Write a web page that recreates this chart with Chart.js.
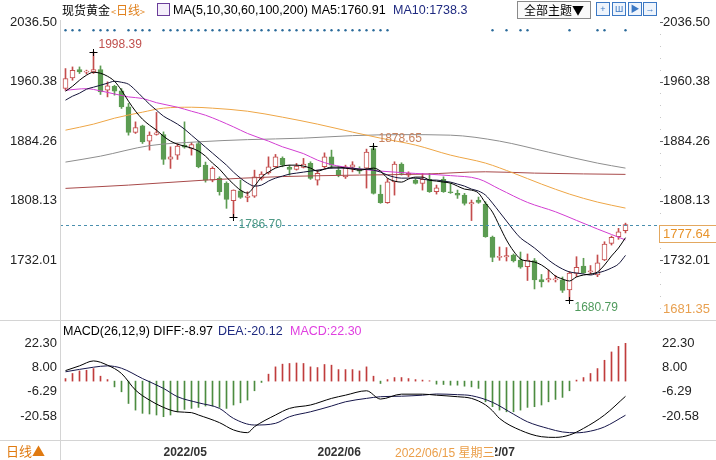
<!DOCTYPE html>
<html><head><meta charset="utf-8">
<script src="https://cdn.jsdelivr.net/npm/chart.js@4.4.1/dist/chart.umd.min.js"></script>
<style>
html,body{margin:0;padding:0;background:#fff;}
#wrap{position:relative;width:716px;height:460px;overflow:hidden;background:#fff;font-family:"Liberation Sans","Noto Sans CJK SC",sans-serif;color:#000;}
canvas{position:absolute;left:0;}
.t{position:absolute;white-space:nowrap;font-size:12.5px;line-height:14px;}
.ln{position:absolute;background:#d4d4d4;}
.ic{position:absolute;top:2px;width:12px;height:12px;border:1px solid #3b78c4;background:#eef4fc;color:#3b78c4;font-size:9px;line-height:12px;text-align:center;}
</style></head><body><div id="wrap">
<canvas id="c1" width="716" height="320" style="top:0"></canvas>
<canvas id="c2" width="716" height="140" style="top:320px"></canvas>
<div class="ln" style="left:60px;top:20px;width:1px;height:440px"></div>
<div class="ln" style="left:0;top:320px;width:716px;height:1px"></div>
<div class="ln" style="left:0;top:440px;width:716px;height:1px"></div>

<div class="t" style="left:62px;top:3px;font-family:'Noto Sans CJK SC';font-size:12px;">现货黄金</div>
<div class="t" style="left:111px;top:3px;color:#e0801c;font-family:'Noto Sans CJK SC';font-size:12px;"><span style="font-size:9px">&lt;</span>日线<span style="font-size:9px">&gt;</span></div>
<div style="position:absolute;left:157px;top:3px;width:11px;height:11px;border:1px solid #6a3d9a;background:#f4eefa;"></div>
<div class="t" style="left:173px;top:3px;">MA(5,10,30,60,100,200) MA5:1760.91</div>
<div class="t" style="left:393px;top:3px;color:#1f2a80;">MA10:1738.3</div>
<div style="position:absolute;left:517px;top:1px;width:72px;height:16px;border:1px solid #8a8a8a;background:#fafafa;font-family:'Noto Sans CJK SC';font-size:12px;line-height:16px;text-align:center;">全部主题▼</div>
<div class="ic" style="left:596px">+</div>
<div class="ic" style="left:612px">Ш</div>
<div class="ic" style="left:628px">▶</div>
<div class="ic" style="left:643px">→</div>

<div class="t" style="left:63px;top:324px;">MACD(26,12,9) DIFF:-8.97</div>
<div class="t" style="left:218px;top:324px;color:#1f2a80;">DEA:-20.12</div>
<div class="t" style="left:290px;top:324px;color:#e040e0;">MACD:22.30</div>

<div class="t" style="left:6px;top:444px;color:#e07a10;font-family:'Noto Sans CJK SC';font-size:13px;">日线▲</div>
<div class="t" style="left:395px;top:445px;color:#eb9f4a;background:#fff;font-size:12px;padding-right:1px;">2022/06/15 <span style="font-family:'Noto Sans CJK SC'">星期三</span></div>
</div>
<script>
// ---------- data ----------
const monthLabels = ['2022/05','2022/06','2022/07'];
const monthStartIdx = [14, 36, 58];

const open = [1951.5,1965.0,1975.8,1972.5,1972.7,1975.8,1949.3,1954.4,1948.4,1928.0,
1895.4,1903.8,1884.3,1892.8,1892.8,1861.3,1866.4,1879.2,1874.9,1881.3,
1853.6,1834.5,1836.6,1830.3,1808.1,1820.8,1812.4,1814.1,1836.6,1843.8,
1851.5,1862.2,1850.7,1848.1,1850.7,1855.8,1834.5,1851.5,1864.2,1847.2,
1838.7,1851.0,1848.5,1849.8,1874.9,1816.6,1805.5,1832.3,1854.9,1840.9,
1834.5,1830.3,1835.4,1819.6,1835.4,1819.6,1817.5,1815.3,1803.9,1809.0,
1803.9,1761.7,1735.6,1736.2,1738.8,1732.4,1723.8,1731.8,1707.5,1706.9,
1706.9,1706.9,1694.1,1715.4,1724.7,1717.1,1713.2,1732.4,1753.7,1762.1,
1769.8];
const high = [1977.0,1979.1,1979.1,1975.0,1998.39,1980.4,1960.0,1955.7,1951.5,1932.4,
1908.9,1904.7,1896.1,1921.0,1896.1,1877.0,1881.3,1908.9,1882.6,1884.3,
1857.5,1851.5,1838.7,1832.3,1822.0,1834.5,1819.6,1847.2,1845.1,1864.2,
1867.3,1864.2,1853.6,1855.8,1862.2,1857.9,1847.2,1869.3,1872.8,1851.5,
1853.6,1858.0,1851.5,1874.1,1878.65,1828.1,1836.6,1857.9,1856.6,1845.1,
1836.6,1843.0,1843.0,1828.1,1838.7,1830.3,1821.7,1817.5,1809.0,1812.8,
1806.8,1763.0,1749.0,1748.3,1740.1,1742.6,1740.1,1734.3,1713.9,1719.6,
1712.6,1710.7,1717.7,1736.6,1734.6,1725.3,1738.8,1755.7,1763.0,1772.8,
1779.5];
const low = [1949.3,1962.1,1970.7,1970.0,1970.7,1943.9,1940.8,1943.0,1926.0,1891.9,
1894.1,1881.3,1872.8,1891.9,1854.5,1849.4,1860.9,1875.3,1866.4,1850.2,
1831.9,1832.3,1815.3,1798.4,1786.70,1811.1,1806.8,1812.4,1834.5,1842.1,
1850.7,1851.5,1840.9,1847.2,1850.0,1835.4,1828.1,1849.4,1849.4,1838.7,
1836.6,1845.0,1843.0,1824.3,1816.6,1804.8,1804.8,1815.3,1840.9,1838.7,
1829.4,1821.7,1818.8,1816.6,1818.8,1817.5,1811.1,1802.6,1782.8,1804.8,
1761.4,1730.2,1732.0,1731.1,1729.8,1721.8,1706.2,1695.4,1697.9,1704.3,
1704.3,1690.9,1680.79,1711.1,1715.4,1714.5,1711.1,1731.5,1751.5,1758.8,
1767.0];
const close = [1964.3,1974.9,1972.7,1973.5,1975.8,1947.2,1954.8,1948.1,1928.0,1895.4,
1901.7,1883.4,1891.9,1894.8,1860.9,1864.2,1877.9,1876.6,1880.0,1851.5,
1834.5,1849.4,1819.6,1809.9,1821.7,1812.4,1814.1,1838.7,1842.1,1851.5,
1864.2,1853.6,1848.1,1852.4,1854.9,1836.6,1843.0,1864.2,1853.6,1840.9,
1851.5,1854.0,1845.9,1870.2,1817.5,1805.5,1832.3,1854.9,1843.0,1843.0,
1830.3,1835.4,1819.6,1824.7,1819.6,1818.3,1815.3,1804.8,1805.8,1806.0,
1762.1,1735.6,1737.0,1738.1,1731.1,1723.1,1732.4,1706.9,1704.3,1708.8,
1708.1,1693.5,1715.8,1723.1,1716.2,1718.4,1728.9,1752.8,1761.4,1768.5,
1777.64];

const ma5 = [1948.1,1954.4,1962.1,1968.5,1972.3,1971.0,1967.2,1960.8,1949.3,1935.3,
1922.6,1912.3,1904.7,1898.3,1890.6,1884.3,1880.4,1877.9,1875.4,1871.5,
1865.1,1856.2,1848.5,1838.3,1829.4,1821.7,1817.9,1826.8,1838.3,1844.7,
1849.8,1852.4,1853.6,1853.6,1852.4,1849.8,1846.0,1848.5,1851.1,1851.1,
1849.8,1848.5,1847.2,1848.5,1849.8,1846.0,1837.0,1833.2,1831.9,1835.8,
1838.3,1838.3,1834.5,1833.2,1831.9,1830.7,1826.8,1823.0,1821.7,1817.9,
1805.1,1793.6,1775.8,1757.9,1743.9,1733.7,1731.1,1729.8,1726.0,1719.6,
1711.9,1708.1,1705.6,1710.7,1713.2,1714.5,1717.1,1726.0,1737.5,1747.7,
1760.91];
const ma10 = [1936.6,1941.7,1945.5,1950.6,1953.2,1955.7,1958.3,1960.8,1959.5,1957.0,
1949.3,1940.4,1931.5,1923.8,1916.2,1911.1,1906.0,1899.6,1891.9,1884.3,
1876.6,1869.0,1861.3,1853.6,1844.7,1837.0,1830.7,1826.8,1828.1,1833.2,
1837.0,1839.6,1842.1,1843.4,1844.7,1846.0,1847.2,1848.5,1849.8,1849.8,
1849.8,1849.8,1848.5,1848.5,1847.2,1844.7,1840.9,1838.3,1837.0,1837.0,
1837.0,1835.8,1834.5,1834.5,1833.2,1831.9,1829.4,1826.8,1823.0,1820.5,
1815.3,1805.1,1793.6,1782.2,1770.7,1760.5,1754.1,1747.7,1740.1,1732.4,
1726.0,1720.9,1717.1,1715.8,1714.5,1713.2,1715.8,1718.4,1722.2,1727.3,
1738.3];
// [candle index, value] readings for the smoother averages
const ma30 = [[0,1949.3],[3,1951.3],[5,1948.5],[9,1940.8],[11,1938.8],[13,1933.4],[16,1927.6],[18,1922.5],[20,1917.4],[24,1902.5],[26,1894.1],[29,1884.3],[31,1877.0],[34,1868.3],[36,1860.0],[38,1854.3],[41,1849.8],[45,1846.0],[50,1843.0],[55,1840.2],[59,1836.0],[62,1823.0],[66,1806.0],[70,1794.0],[73,1783.0],[76,1772.0],[78,1765.0],[80,1758.0]];
const ma60 = [[0,1898.3],[4,1906.0],[7,1913.6],[11,1921.3],[14,1926.4],[18,1927.6],[21,1926.4],[26,1922.5],[31,1914.9],[36,1906.0],[41,1895.8],[45,1888.1],[50,1879.2],[55,1866.4],[60,1856.2],[64,1843.4],[68,1829.4],[72,1816.6],[76,1806.4],[80,1798.7]];
const ma100 = [[0,1857.5],[5,1865.1],[12,1878.5],[19,1883.4],[26,1886.2],[34,1888.1],[41,1891.3],[48,1892.6],[55,1891.9],[62,1884.3],[69,1870.2],[76,1856.2],[80,1849.8]];
const ma200 = [[0,1823.9],[9,1828.1],[20,1834.5],[31,1839.0],[42,1840.9],[51,1842.1],[60,1845.1],[67,1843.4],[74,1842.4],[80,1841.8]];

const eventIdx = [0,1,2,4,5,6,7,9,10,11,12,14,15,16,17,18,19,20,21,22,23,24,25,26,27,28,29,30,31,32,33,34,35,36,37,38,39,40,41,42,43,44,45,46,61,63,65,66,72,76,77,80];
const eventLevel = 2025.9;

const highMarkIdx = [4, 44];
const lowMarkIdx = [24, 72];
const cursorPrice = 1681.35;
const priceTicks = [2036.50, 1960.38, 1884.26, 1808.13, 1732.01];

const macdHist = [1.5,4.5,6.0,6.4,7.4,2.9,0.9,-3.4,-6.3,-13.2,
-17.1,-19.0,-19.4,-20.0,-21.0,-20.0,-18.1,-16.7,-16.1,-15.5,
-14.7,-14.7,-15.5,-16.1,-14.1,-12.8,-11.2,-5.7,-0.8,4.1,
8.4,10.0,10.4,10.7,10.4,8.4,8.0,9.8,9.4,6.8,
6.8,6.8,6.0,8.4,2.9,-1.4,0.9,2.1,2.1,1.5,
0.9,0.6,0.2,-1.8,-2.0,-2.4,-2.4,-3.0,-3.4,-4.3,
-12.2,-15.1,-17.1,-18.1,-18.1,-17.1,-15.5,-15.1,-14.1,-12.2,
-10.8,-9.6,-5.7,0.6,2.1,4.5,7.4,12.3,17.2,20.5,
22.3];
const diffLine = [[0,6.2],[2,9.0],[4,11.9],[6,9.4],[8,4.5],[10,-5.3],[12,-11.2],[14,-15.5],[16,-18.1],[18,-18.6],[19,-20.0],[22,-24.5],[24,-28.8],[26,-30.4],[27,-26.9],[30,-20.0],[32,-16.1],[35,-14.1],[38,-10.2],[40,-8.3],[43,-5.7],[45,-10.6],[48,-7.7],[51,-7.7],[53,-8.3],[56,-9.2],[58,-10.2],[60,-14.0],[61,-17.5],[62,-22.0],[65,-29.0],[68,-32.8],[70,-33.2],[72,-31.8],[74,-27.9],[77,-20.0],[80,-8.97]];
const deaLine = [[0,5.5],[4,8.2],[6,9.0],[8,7.6],[11,1.5],[14,-4.3],[16,-9.2],[19,-12.8],[22,-16.1],[24,-22.0],[27,-25.9],[30,-24.9],[32,-21.0],[35,-18.1],[38,-14.7],[40,-12.2],[43,-10.2],[45,-9.2],[48,-8.9],[51,-8.3],[53,-7.6],[56,-8.0],[58,-8.6],[61,-12.5],[64,-19.5],[66,-24.0],[69,-28.0],[71,-30.0],[73,-30.5],[75,-29.5],[77,-27.0],[80,-20.12]];
const macdTicks = [22.30, 8.00, -6.29, -20.58];

// ---------- drawing ----------
Chart.defaults.font.family = '"Liberation Sans", Arial, sans-serif';
const FONT = '"Liberation Sans", Arial, sans-serif';
const UP = '#c44d4d', DOWN = '#5c9c52';
const isUp = i => close[i] >= open[i];
const lastPrice = close[close.length - 1];
const XMIN = -0.7857, XMAX = 84.2143;
const pts = a => a.map((v, i) => ({x: i, y: v}));
const pairPts = a => a.map(([i, v]) => ({x: i, y: v}));
const lineDs = (data, color, order) => ({type: 'line', data, borderColor: color, borderWidth: 1, pointRadius: 0, cubicInterpolationMode: 'monotone', order, yAxisID: 'y'});

const overlay = {
  id: 'overlay',
  afterDraw(chart) {
    const {ctx, chartArea: a, scales: {x, y}} = chart;
    ctx.save();
    const step = priceTicks[0] - priceTicks[1];
    for (let k = 0; k < priceTicks.length; k++) {
      const v = priceTicks[k];
      let py = Math.round(y.getPixelForValue(v)) + 0.5;
      ctx.strokeStyle = '#666'; ctx.lineWidth = 1;
      ctx.beginPath(); ctx.moveTo(a.right + 5, py); ctx.lineTo(a.right + 8, py); ctx.stroke();
      for (let m = 1; m < 5; m++) {
        const mv = v - m * step / 5;
        if (mv < y.min) break;
        py = Math.round(y.getPixelForValue(mv));
        ctx.fillStyle = '#c8c8c8'; ctx.fillRect(a.right + 5, py, 1, 1);
      }
    }
    const yl = Math.round(y.getPixelForValue(lastPrice)) + 0.5;
    ctx.setLineDash([3, 3]); ctx.strokeStyle = '#4a8fae';
    ctx.beginPath(); ctx.moveTo(a.left, yl); ctx.lineTo(a.right + 3, yl); ctx.stroke();
    ctx.setLineDash([]);
    ctx.fillStyle = '#fff'; ctx.fillRect(a.right + 4, yl, 58, 17);
    ctx.strokeStyle = '#e3a860'; ctx.strokeRect(a.right + 4.5, yl, 58, 17);
    ctx.font = '13px ' + FONT; ctx.textBaseline = 'middle'; ctx.textAlign = 'left';
    ctx.fillStyle = '#e8942c'; ctx.fillText(lastPrice.toFixed(2), a.right + 8, yl + 9);
    ctx.fillStyle = '#e8a050'; ctx.fillText(cursorPrice.toFixed(2), a.right + 8, y.getPixelForValue(cursorPrice) + 9);
    const cross = (px, py) => {
      ctx.strokeStyle = '#000'; ctx.lineWidth = 1; ctx.beginPath();
      ctx.moveTo(px - 4, py + 0.5); ctx.lineTo(px + 4, py + 0.5);
      ctx.moveTo(px, py - 3); ctx.lineTo(px, py + 4); ctx.stroke();
    };
    ctx.font = '12px ' + FONT;
    highMarkIdx.forEach((i, k) => {
      const px = x.getPixelForValue(i), py = Math.round(y.getPixelForValue(high[i]));
      cross(px, py);
      ctx.fillStyle = k === 0 ? '#c0504d' : '#c8825e';
      ctx.fillText(high[i].toFixed(2), px + 5, py - 7);
    });
    lowMarkIdx.forEach((i, k) => {
      const px = x.getPixelForValue(i), py = Math.round(y.getPixelForValue(low[i]));
      cross(px, py);
      ctx.fillStyle = k === 0 ? '#4f9a86' : '#4f9a5c';
      ctx.fillText(low[i].toFixed(2), px + 5, py + 8);
    });
    ctx.restore();
  }
};

const yAxisBase = (pos, min, max, ticks, pad) => ({
  position: pos, min, max, beginAtZero: false,
  afterFit(s) { s.width = pos === 'left' ? 60 : 61; s.paddingTop = 0; s.paddingBottom = 0; },
  afterBuildTicks(s) { s.ticks = ticks.map(v => ({value: v})); },
  ticks: {autoSkip: false, padding: pad, color: '#222', font: {size: 13, family: FONT}, callback: v => Number(v).toFixed(2)},
  grid: {display: false, drawTicks: false},
  border: {display: false}
});

const PMAX = 2036.5, PMIN = 1658.76;
const chart1 = new Chart(document.getElementById('c1'), {
  type: 'bar',
  data: {datasets: [
    lineDs(pts(ma5), '#000000', 1),
    lineDs(pts(ma10), '#15153a', 1),
    lineDs(pairPts(ma30), '#d23ed2', 2),
    lineDs(pairPts(ma60), '#eea646', 2),
    lineDs(pairPts(ma100), '#8e8e8e', 2),
    lineDs(pairPts(ma200), '#a84a4a', 2),
    {type: 'line', data: eventIdx.map(i => ({x: i, y: eventLevel})), showLine: false, pointRadius: 1.2, pointBorderWidth: 0, pointBackgroundColor: '#2a6a9a', order: 1, yAxisID: 'y'},
    {type: 'bar', data: close.map((c, i) => ({x: i, y: [open[i], c]})), yAxisID: 'y', order: 4, grouped: false,
      barThickness: 5, minBarLength: 1, borderWidth: 1, borderSkipped: false,
      backgroundColor: c => isUp(c.dataIndex) ? '#ffffff' : DOWN,
      borderColor: c => isUp(c.dataIndex) ? UP : DOWN},
    {type: 'bar', data: close.map((c, i) => ({x: i, y: [low[i], high[i]]})), yAxisID: 'y', order: 5, grouped: false,
      barThickness: 1, borderWidth: 0,
      backgroundColor: c => isUp(c.dataIndex) ? UP : DOWN}
  ]},
  options: {
    responsive: false, animation: false, devicePixelRatio: 1,
    layout: {padding: {top: 22, bottom: 2, left: 0, right: 0}},
    plugins: {legend: {display: false}, tooltip: {enabled: false}},
    scales: {
      x: {type: 'linear', min: XMIN, max: XMAX, offset: false, display: false, grid: {offset: false}},
      y: yAxisBase('left', PMIN, PMAX, priceTicks, 3),
      y2: yAxisBase('right', PMIN, PMAX, priceTicks, 8)
    }
  },
  plugins: [overlay]
});
// fit the price scale so that the lowest labelled level lands where the reference puts it
(function () {
  const a = chart1.chartArea;
  const perPx = (PMAX - priceTicks[priceTicks.length - 1]) / (260.3 - a.top);
  const newMin = PMAX - (a.bottom - a.top) * perPx;
  chart1.options.scales.y.min = newMin;
  chart1.options.scales.y2.min = newMin;
  chart1.update('none');
})();

const MMAX = 26.02, MMIN = -34.74;
new Chart(document.getElementById('c2'), {
  type: 'bar',
  data: {datasets: [
    {type: 'line', data: pairPts(diffLine), borderColor: '#000', borderWidth: 1, pointRadius: 0, cubicInterpolationMode: 'monotone', order: 1, yAxisID: 'y'},
    {type: 'line', data: pairPts(deaLine), borderColor: '#16164a', borderWidth: 1, pointRadius: 0, cubicInterpolationMode: 'monotone', order: 1, yAxisID: 'y'},
    {type: 'bar', data: pts(macdHist), yAxisID: 'y', order: 3, grouped: false, barThickness: 1, borderWidth: 0,
      backgroundColor: c => macdHist[c.dataIndex] >= 0 ? '#c03c3c' : '#4c8c40'}
  ]},
  options: {
    responsive: false, animation: false, devicePixelRatio: 1,
    layout: {padding: {top: 17, bottom: 0, left: 0, right: 0}},
    plugins: {legend: {display: false}, tooltip: {enabled: false}},
    scales: {
      x: {type: 'linear', min: XMIN, max: XMAX, offset: false, position: 'bottom',
        afterFit(s) { s.height = 20; },
        afterBuildTicks(s) { s.ticks = monthStartIdx.map(v => ({value: v})); },
        ticks: {autoSkip: false, maxRotation: 0, align: 'start', padding: 5, color: '#333',
          font: {size: 12, weight: 'bold', family: FONT},
          callback: (v, k) => monthLabels[k]},
        grid: {display: false, drawTicks: false}, border: {display: false}},
      y: yAxisBase('left', MMIN, MMAX, macdTicks, 3),
      y2: yAxisBase('right', MMIN, MMAX, macdTicks, 7)
    }
  }
});
</script>
</body></html>
